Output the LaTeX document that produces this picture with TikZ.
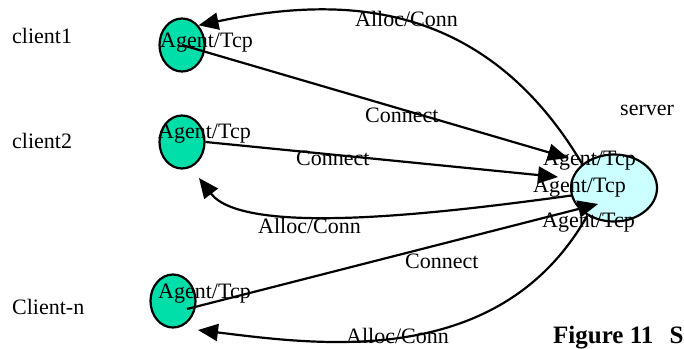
\documentclass[tikz,border=0pt]{standalone}
\usepackage{fontspec}
\setmainfont{Liberation Serif}
\usepackage{tikz}
\usetikzlibrary{shapes.geometric,arrows.meta,calc}

\definecolor{agentgreen}{RGB}{0,222,170}
\definecolor{servercyan}{RGB}{204,255,255}

\begin{document}
\begin{tikzpicture}[x=1pt,y=-1pt,
    txt/.style={font=\fontsize{22}{26}\selectfont, inner sep=0pt, anchor=base west},
    client/.style={ellipse, draw, line width=2.2pt, fill=agentgreen, minimum width=45pt, minimum height=53pt, inner sep=0pt},
    msg/.style={line width=2.2pt, -{Triangle[length=20pt,width=17pt]}}]
    \useasboundingbox (0,0) rectangle (684,348);
    \clip (0,0) rectangle (684,348);

    % hosts
    \node[client] (c1) at (182,45) {};
    \node[client] (c2) at (182,142) {};
    \node[client] (cn) at (173,301) {};
    \node[ellipse, draw, line width=2.2pt, fill=servercyan, minimum width=86pt, minimum height=67pt] (srv) at (614,188) {};

    % arrow ends near the hosts
    \coordinate (s1) at (568,158);
    \coordinate (s2) at (558,177);
    \coordinate (s3) at (598,204);
    \coordinate (a2) at (199,178);
    \coordinate (an) at (198,330);

    % connect requests
    \draw[msg] (c1.center) -- (s1);
    \draw[msg] (c2.east) -- (s2);
    \draw[msg] ($(cn.center)+(14,8)$) -- (s3);

    % replies from the server
    \draw[msg] (srv.143) .. controls (480,-8) and (330,-2) .. (c1.50);
    \draw[msg] (srv.190) .. controls (450,212) and (245,238) .. (a2);
    \draw[msg] (srv.226) .. controls (500,370) and (320,345) .. (an);

    % host names
    \node[txt] (n1) at (12,43) {client1};
    \node[txt] (n2) at (12,148) {client2};
    \node[txt] (nn) at (12,314) {Client-n};
    \node[txt] (ns) at (620,115) {server};

    % agents
    \node[txt] (g1) at (160,47) {Agent/Tcp};
    \node[txt] (g2) at (158,138) {Agent/Tcp};
    \node[txt] (gn) at (158,298) {Agent/Tcp};
    \node[txt] (gs1) at (543,165) {Agent/Tcp};
    \node[txt] (gs2) at (533,192) {Agent/Tcp};
    \node[txt] (gs3) at (542,227) {Agent/Tcp};

    % message labels
    \node[txt] (l1) at (355,26) {Alloc/Conn};
    \node[txt] (l2) at (365,122) {Connect};
    \node[txt] (l3) at (296,165) {Connect};
    \node[txt] (l4) at (258,233) {Alloc/Conn};
    \node[txt] (l5) at (405,268) {Connect};
    \node[txt] (l6) at (346,343) {Alloc/Conn};

    \node[txt, font=\fontsize{25}{29}\selectfont\bfseries] (fig) at (553,343) {Figure 11\hspace{0.65em}S};
\end{tikzpicture}
\end{document}
